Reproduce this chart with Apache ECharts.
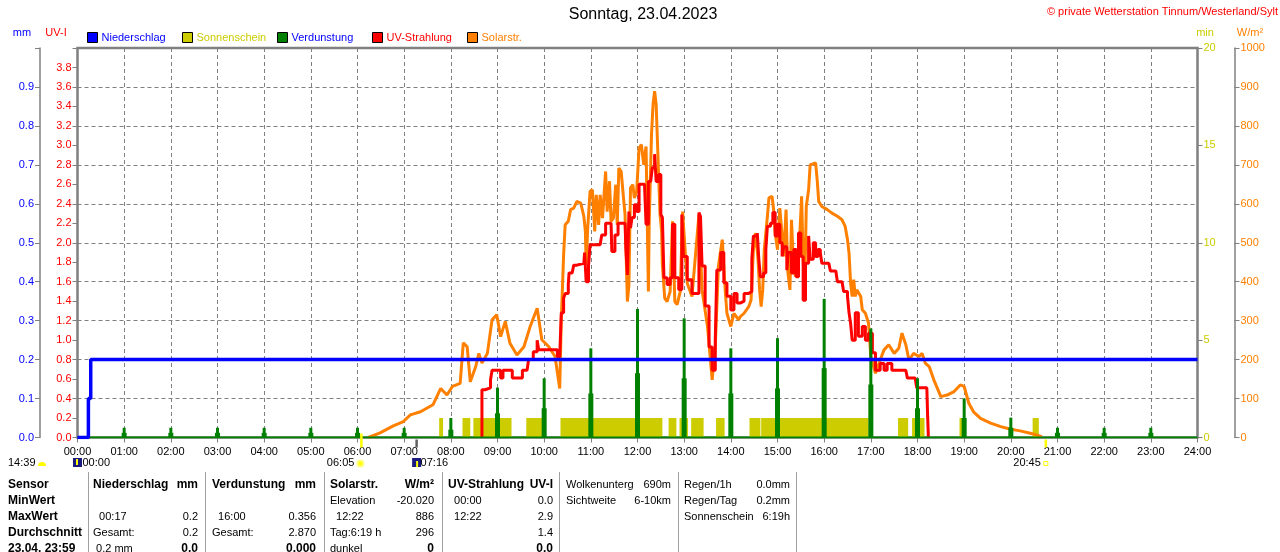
<!DOCTYPE html>
<html>
<head>
<meta charset="utf-8">
<title>Sonntag, 23.04.2023</title>
<script src="https://cdn.jsdelivr.net/npm/echarts@6/dist/echarts.min.js"></script>
<style>
  html, body { margin: 0; padding: 0; background: #fff; }
  #chart { width: 1280px; height: 552px; }
</style>
</head>
<body>
<div id="chart"></div>
<script>
// --- Tagesdaten (Minuten seit Mitternacht) ---

// Niederschlag kumuliert, mm
var rain = [[0, 0], [14, 0.1], [17, 0.2], [1440, 0.2]];

// Verdunstung je Stunde, mm (hoher Balken + niedriger Sockel)
var evapHours = [1, 2, 3, 4, 5, 6, 7, 8, 9, 10, 11, 12, 13, 14, 15, 16, 17, 18, 19, 20, 21, 22, 23];
var evapPeak = [0.025, 0.025, 0.025, 0.025, 0.025, 0.025, 0.025, 0.05, 0.128, 0.152, 0.229, 0.33,
                0.306, 0.229, 0.255, 0.356, 0.28, 0.152, 0.10, 0.051, 0.025, 0.025, 0.025];
var evapLow = [0.012, 0.012, 0.012, 0.012, 0.012, 0.012, 0.012, 0.02, 0.062, 0.075, 0.113, 0.165,
               0.152, 0.113, 0.126, 0.178, 0.136, 0.075, 0.05, 0.025, 0.012, 0.012, 0.012];
var evapBase = [[0, 0], [1440, 0]];

// Sonnenschein, Abschnitte [von, bis] in Minuten, Wert in min
var sunBlocks = [[465, 470], [495, 505], [509, 558], [577, 600], [621, 752], [760, 770], [774, 785],
                 [789, 805], [821, 832], [864, 878], [879, 1017], [1055, 1068], [1073, 1089],
                 [1134, 1139], [1228, 1236]];
var sunLevel = 1;

// Solarstrahlung W/m²
var solar = [
  [374, 0], [389, 12], [406, 30], [419, 41], [428, 58], [441, 66], [457, 84], [467, 126], [475, 109],
  [482, 131], [492, 139], [496, 243], [501, 233], [505, 143], [512, 182], [516, 216], [520, 191],
  [527, 216], [533, 302], [539, 315], [544, 259], [550, 298], [556, 242], [565, 212], [574, 233],
  [582, 285], [591, 332], [597, 251], [606, 233], [614, 208], [620, 126], [622, 300], [625, 469],
  [627, 546], [631, 555], [634, 585], [638, 589], [642, 606], [647, 602], [649, 585], [651, 568],
  [653, 529], [654, 443], [656, 538], [659, 632], [662, 636], [665, 529], [667, 623], [670, 546],
  [672, 623], [675, 563], [679, 683], [681, 580], [684, 658], [686, 555], [689, 563], [692, 649],
  [694, 546], [696, 692], [699, 683], [702, 615], [704, 572], [707, 349], [709, 392], [711, 641],
  [714, 649], [716, 615], [719, 632], [722, 743], [725, 752], [728, 700], [731, 747], [734, 375],
  [735, 546], [738, 778], [740, 855], [742, 889], [744, 855], [747, 683], [749, 572], [751, 529],
  [752, 443], [755, 358], [758, 349], [762, 375], [765, 555], [768, 349], [771, 341], [775, 375],
  [778, 580], [784, 396], [790, 362], [799, 572], [803, 379], [810, 285], [816, 148], [820, 233],
  [824, 439], [829, 508], [833, 371], [835, 319], [840, 285], [844, 319], [850, 302], [852, 310],
  [857, 319], [863, 336], [866, 353], [869, 482], [872, 525], [875, 456], [877, 379], [879, 336],
  [881, 379], [883, 482], [887, 568], [889, 615], [893, 619], [895, 585], [897, 525], [900, 482],
  [903, 589], [906, 516], [908, 465], [911, 585], [913, 431], [916, 379], [918, 559], [920, 465],
  [923, 413], [926, 456], [929, 533], [931, 619], [933, 456], [935, 379], [937, 593], [940, 636],
  [942, 700], [949, 705], [951, 662], [953, 606], [957, 593], [964, 585], [970, 576], [977, 568],
  [983, 559], [987, 542], [990, 508], [992, 473], [994, 396], [996, 362], [998, 405], [1000, 362],
  [1002, 379], [1007, 362], [1009, 328], [1013, 319], [1017, 294], [1020, 208], [1026, 165],
  [1032, 199], [1037, 225], [1043, 238], [1050, 216], [1056, 229], [1060, 268], [1065, 238],
  [1069, 199], [1075, 216], [1082, 208], [1086, 216], [1090, 191], [1095, 182], [1101, 148],
  [1110, 105], [1118, 109], [1127, 118], [1135, 135], [1140, 131], [1146, 88], [1152, 66],
  [1161, 49], [1174, 37], [1187, 28], [1200, 21], [1212, 17], [1225, 11], [1234, 6], [1240, 2]
];

// UV-Strahlung, UV-Index
var uv = [
  [520, 0], [520, 0.49], [524, 0.51], [531, 0.59], [533, 0.69], [539, 0.69], [544, 0.61], [547, 0.69],
  [554, 0.69], [559, 0.61], [569, 0.61], [572, 0.69], [578, 0.71], [580, 0.8], [586, 0.88], [591, 1.0],
  [593, 0.9], [614, 0.9], [617, 0.83], [620, 0.83], [622, 1.28], [625, 1.43], [627, 1.48], [631, 1.57],
  [632, 1.69], [636, 1.71], [638, 1.77], [642, 1.79], [651, 1.79], [652, 1.9], [654, 1.6], [657, 1.76],
  [659, 1.98], [672, 1.98], [674, 2.08], [679, 2.2], [686, 2.2], [687, 1.91], [691, 2.08], [695, 2.2],
  [704, 2.2], [705, 1.95], [707, 1.67], [709, 2.32], [711, 2.15], [713, 2.26], [716, 2.39], [719, 2.32],
  [722, 2.6], [729, 2.6], [731, 2.19], [734, 2.63], [737, 2.63], [739, 2.77], [742, 2.91], [744, 2.63],
  [747, 2.7], [750, 2.29], [752, 2.26], [754, 1.64], [758, 1.57], [762, 1.64], [765, 2.19], [768, 1.64],
  [773, 1.52], [777, 2.29], [779, 1.86], [784, 1.62], [790, 1.48], [799, 2.31], [801, 2.27], [803, 1.76],
  [807, 1.35], [812, 0.93], [816, 0.69], [820, 1.0], [822, 1.72], [827, 1.9], [831, 1.59], [835, 1.45],
  [840, 1.31], [844, 1.48], [848, 1.38], [852, 1.4], [857, 1.48], [863, 1.5], [867, 1.83], [869, 2.07],
  [874, 2.1], [876, 1.83], [878, 1.65], [882, 1.69], [885, 1.93], [887, 2.17], [891, 2.2], [894, 2.31],
  [897, 2.07], [900, 2.19], [903, 2.0], [906, 1.86], [908, 1.96], [912, 1.72], [914, 1.9], [918, 1.69],
  [921, 1.93], [924, 1.65], [927, 2.1], [930, 1.86], [933, 1.41], [936, 1.79], [940, 2.07], [942, 1.83],
  [946, 2.0], [949, 1.86], [952, 1.93], [955, 1.9], [957, 1.79], [966, 1.79], [968, 1.71], [975, 1.71],
  [977, 1.6], [983, 1.6], [985, 1.5], [990, 1.45], [992, 1.28], [994, 1.17], [996, 1.0], [1000, 1.28],
  [1004, 1.04], [1009, 1.14], [1013, 1.0], [1017, 1.07], [1022, 0.87], [1026, 0.69], [1032, 0.76],
  [1037, 0.69], [1041, 0.76], [1047, 0.69], [1065, 0.69], [1067, 0.61], [1077, 0.61], [1079, 0.51],
  [1092, 0.51], [1093, 0.23], [1094, 0]
];

// Sonne / Mond (Minuten)
var dayLength = '14:39';
var moonRise = 0, sunRise = 365, moonSet = 436, sunSet = 1245;

// Texte
var titleText = 'Sonntag, 23.04.2023';
var copyText = '\u00a9 private Wetterstation Tinnum/Westerland/Sylt';
var legendNames = ['Niederschlag', 'Sonnenschein', 'Verdunstung', 'UV-Strahlung', 'Solarstr.'];

// Tabelle unten
var tableLabels = ['Sensor', 'MinWert', 'MaxWert', 'Durchschnitt', '23.04. 23:59'];
var tableCols = [
  { l: ['Niederschlag', '', '  00:17', 'Gesamt:', ' 0.2 mm'], r: ['mm', '', '0.2', '0.2', '0.0'], bold: true },
  { l: ['Verdunstung', '', '  16:00', 'Gesamt:', ''], r: ['mm', '', '0.356', '2.870', '0.000'], bold: true },
  { l: ['Solarstr.', 'Elevation', '  12:22', 'Tag:6:19 h', 'dunkel'], r: ['W/m\u00b2', '-20.020', '886', '296', '0'], bold: true },
  { l: ['UV-Strahlung', '  00:00', '  12:22', '', ''], r: ['UV-I', '0.0', '2.9', '1.4', '0.0'], bold: true },
  { l: ['Wolkenunterg', 'Sichtweite', '', '', ''], r: ['690m', '6-10km', '', '', ''], bold: false },
  { l: ['Regen/1h', 'Regen/Tag', 'Sonnenschein', '', ''], r: ['0.0mm', '0.2mm', '6:19h', '', ''], bold: false }
];

// --- Darstellung ---
var FONT = '"Liberation Sans", Arial, sans-serif';
var GRAY = '#808080';
var C_RAIN = '#0000ff', C_SUN = '#cccc00', C_EVAP = '#008000', C_UV = '#ff0000', C_SOLAR = '#ff8000';

function hhmm(m) {
  var h = Math.floor(m / 60), mm = m % 60;
  return (h < 10 ? '0' : '') + h + ':' + (mm < 10 ? '0' : '') + mm;
}

function txt(x, y, s, o) {
  o = o || {};
  return {
    type: 'text', silent: true, z: 10,
    style: {
      text: s, x: x, y: y,
      font: (o.bold ? 'bold ' : '') + (o.size || 11) + 'px ' + FONT,
      fill: o.color || '#000',
      align: o.align || 'left', textAlign: o.align || 'left',
      verticalAlign: 'middle', textVerticalAlign: 'middle'
    }
  };
}

var chart = echarts.init(document.getElementById('chart'));

var option = {
  backgroundColor: '#fff',
  animation: false,
  grid: {
    left: 77.5, right: 82.5, top: 48, bottom: 114.5,
    show: true, borderColor: GRAY, borderWidth: 2.5, backgroundColor: '#fff'
  },
  xAxis: {
    type: 'value', min: 0, max: 1440, interval: 60,
    axisLine: { show: false },
    axisTick: { show: true, length: 5, lineStyle: { color: GRAY } },
    axisLabel: {
      color: '#000', fontSize: 11, fontFamily: FONT, margin: 9,
      showMinLabel: true, showMaxLabel: true,
      formatter: function (v) { return hhmm(v); }
    },
    splitLine: { show: true, lineStyle: { color: GRAY, width: 1, type: [4, 3] } }
  },
  yAxis: [
    { // UV-I
      type: 'value', position: 'left', min: 0, max: 4, interval: 0.2,
      axisLine: { show: false },
      axisTick: { show: true, length: 5, lineStyle: { color: GRAY } },
      axisLabel: {
        color: C_UV, fontSize: 11, fontFamily: FONT, margin: 6,
        formatter: function (v) { return v > 3.9 ? '' : v.toFixed(1); }
      },
      splitLine: { show: false }
    },
    { // mm
      type: 'value', position: 'left', offset: 37.5, min: 0, max: 1, interval: 0.1,
      axisLine: { show: true, lineStyle: { color: GRAY, width: 1.5 } },
      axisTick: { show: true, length: 5, lineStyle: { color: GRAY } },
      axisLabel: {
        color: C_RAIN, fontSize: 11, fontFamily: FONT, margin: 6,
        formatter: function (v) { return v > 0.95 ? '' : v.toFixed(1); }
      },
      splitLine: { show: true, lineStyle: { color: GRAY, width: 1, type: [4, 3] } }
    },
    { // min
      type: 'value', position: 'right', min: 0, max: 20, interval: 5,
      axisLine: { show: false },
      axisTick: { show: true, length: 5, lineStyle: { color: GRAY } },
      axisLabel: { color: C_SUN, fontSize: 11, fontFamily: FONT, margin: 6 },
      splitLine: { show: false }
    },
    { // W/m²
      type: 'value', position: 'right', offset: 37, min: 0, max: 1000, interval: 100,
      axisLine: { show: true, lineStyle: { color: GRAY, width: 1.5 } },
      axisTick: { show: true, length: 5, lineStyle: { color: GRAY } },
      axisLabel: {
        color: C_SOLAR, fontSize: 11, fontFamily: FONT, margin: 6,
        formatter: function (v) { return String(v); }
      },
      splitLine: { show: false }
    }
  ],
  series: [
    {
      name: 'Sonnenschein', type: 'custom', xAxisIndex: 0, yAxisIndex: 2, z: 1,
      data: sunBlocks.map(function (b) { return [b[0], b[1], sunLevel]; }),
      encode: { x: [0, 1], y: 2 },
      renderItem: function (params, api) {
        var p0 = api.coord([api.value(0), api.value(2)]);
        var p1 = api.coord([api.value(1), 0]);
        return {
          type: 'rect',
          shape: { x: p0[0], y: p0[1], width: p1[0] - p0[0], height: p1[1] - p0[1] },
          style: { fill: C_SUN }
        };
      }
    },
    {
      name: 'Solarstr.', type: 'line', yAxisIndex: 3, z: 2,
      data: solar, showSymbol: false, symbol: 'none',
      lineStyle: { color: C_SOLAR, width: 3 }
    },
    {
      name: 'UV-Strahlung', type: 'line', yAxisIndex: 0, z: 3, step: 'end',
      data: uv, showSymbol: false, symbol: 'none',
      lineStyle: { color: C_UV, width: 3 }
    },
    {
      name: 'Verdunstung-Basis', type: 'line', yAxisIndex: 1, z: 4,
      data: evapBase, showSymbol: false, symbol: 'none',
      lineStyle: { color: C_EVAP, width: 2 }
    },
    {
      name: 'Verdunstung', type: 'custom', xAxisIndex: 0, yAxisIndex: 1, z: 5,
      data: evapHours.map(function (h, i) { return [h * 60, evapPeak[i], evapLow[i]]; }),
      encode: { x: 0, y: [1, 2] },
      renderItem: function (params, api) {
        var base = api.coord([api.value(0), 0]);
        var top = api.coord([api.value(0), api.value(1)]);
        var mid = api.coord([api.value(0), api.value(2)]);
        return {
          type: 'group',
          children: [
            { type: 'rect', shape: { x: base[0] - 2.5, y: mid[1], width: 5, height: base[1] - mid[1] }, style: { fill: C_EVAP } },
            { type: 'rect', shape: { x: base[0] - 1.5, y: top[1], width: 3, height: base[1] - top[1] }, style: { fill: C_EVAP } }
          ]
        };
      }
    },
    {
      name: 'Niederschlag', type: 'line', yAxisIndex: 1, z: 6, step: 'end',
      data: rain, showSymbol: false, symbol: 'none',
      lineStyle: { color: C_RAIN, width: 3.5 }
    }
  ]
};

chart.setOption(option);

// --- Beschriftungen, Legende, Tabelle ---
var g = [];

// Titel und Copyright
g.push(txt(643, 15, titleText, { size: 16, align: 'center' }));
g.push(txt(1278, 12, copyText, { color: C_UV, align: 'right' }));

// Einheiten über den Achsen
g.push(txt(22, 33, 'mm', { color: C_RAIN, align: 'center' }));
g.push(txt(56, 33, 'UV-I', { color: C_UV, align: 'center' }));
g.push(txt(1205, 33, 'min', { color: C_SUN, align: 'center' }));
g.push(txt(1250, 33, 'W/m\u00b2', { color: C_SOLAR, align: 'center' }));

// Legende
var legendColors = [C_RAIN, C_SUN, C_EVAP, C_UV, C_SOLAR];
var legendTextColors = [C_RAIN, C_SUN, C_RAIN, C_UV, C_SOLAR];
legendNames.forEach(function (name, i) {
  var lx = 87.5 + i * 95;
  g.push({ type: 'rect', silent: true, z: 10, shape: { x: lx, y: 32.5, width: 10, height: 10 },
           style: { fill: legendColors[i], stroke: '#000', lineWidth: 1 } });
  g.push(txt(lx + 14, 38, name, { color: legendTextColors[i] }));
});

// Sonne / Mond unter der Zeitachse
function px(m) { return chart.convertToPixel({ xAxisIndex: 0 }, m); }
var axisY = 437.5;
g.push(txt(8, 463, dayLength));
g.push({ type: 'sector', silent: true, z: 10, shape: { cx: 42, cy: 466, r: 4, startAngle: Math.PI, endAngle: 2 * Math.PI },
         style: { fill: '#ffff00' } });
// Mondaufgang
var xm = px(moonRise);
g.push({ type: 'rect', silent: true, z: 10, shape: { x: xm - 4.5, y: 458, width: 9, height: 9 }, style: { fill: '#1a1a80' } });
g.push({ type: 'rect', silent: true, z: 11, shape: { x: xm - 1.5, y: 459, width: 2, height: 6 }, style: { fill: '#ffff00' } });
g.push(txt(xm + 5, 463, hhmm(moonRise)));
// Sonnenaufgang
var xr = px(sunRise);
g.push({ type: 'line', silent: true, z: 10, shape: { x1: xr, y1: axisY - 4, x2: xr, y2: axisY + 10 }, style: { stroke: '#ffff00', lineWidth: 2.5 } });
g.push({ type: 'circle', silent: true, z: 10, shape: { cx: xr - 1, cy: 463.5, r: 3 }, style: { fill: '#ffff00', stroke: '#ffff80', lineWidth: 2 } });
g.push(txt(xr - 7, 463, hhmm(sunRise), { align: 'right' }));
// Monduntergang
var xs = px(moonSet);
g.push({ type: 'line', silent: true, z: 10, shape: { x1: xs, y1: axisY + 2, x2: xs, y2: axisY + 10 }, style: { stroke: '#606060', lineWidth: 2.5 } });
g.push({ type: 'rect', silent: true, z: 10, shape: { x: xs - 4.5, y: 458, width: 9, height: 9 }, style: { fill: '#1a1a80' } });
g.push({ type: 'rect', silent: true, z: 11, shape: { x: xs - 0.5, y: 461, width: 2, height: 6 }, style: { fill: '#ffff00' } });
g.push(txt(xs + 4, 463, hhmm(moonSet)));
// Sonnenuntergang
var xu = px(sunSet);
g.push({ type: 'line', silent: true, z: 10, shape: { x1: xu, y1: axisY + 2, x2: xu, y2: axisY + 10 }, style: { stroke: '#ffff00', lineWidth: 2.5 } });
g.push({ type: 'rect', silent: true, z: 10, shape: { x: xu - 2, y: 461.5, width: 4, height: 4 }, style: { fill: 'none', stroke: '#ffff00', lineWidth: 1 } });
g.push(txt(xu - 5, 463, hhmm(sunSet), { align: 'right' }));

// Tabelle
var rowY = [485, 501, 517, 533, 549];
var colX = [[93, 198], [212, 316], [330, 434], [448, 553], [566, 671], [684, 790]];
var sepX = [88, 205, 324, 442, 559, 678, 796];
sepX.forEach(function (x) {
  g.push({ type: 'line', silent: true, z: 10, shape: { x1: x + 0.5, y1: 472, x2: x + 0.5, y2: 552 }, style: { stroke: '#a0a0a0', lineWidth: 1 } });
});
tableLabels.forEach(function (s, r) {
  g.push(txt(8, rowY[r], s, { bold: true, size: 12 }));
});
tableCols.forEach(function (col, c) {
  for (var r = 0; r < rowY.length; r++) {
    var head = col.bold && r === 0;
    var last = col.bold && r === 4;
    if (col.l[r]) g.push(txt(colX[c][0], rowY[r], col.l[r], { bold: head, size: head ? 12 : 11 }));
    if (col.r[r]) g.push(txt(colX[c][1], rowY[r], col.r[r], { bold: head || last, size: (head || last) ? 12 : 11, align: 'right' }));
  }
});

chart.setOption({ graphic: { elements: g } });
</script>
</body>
</html>
